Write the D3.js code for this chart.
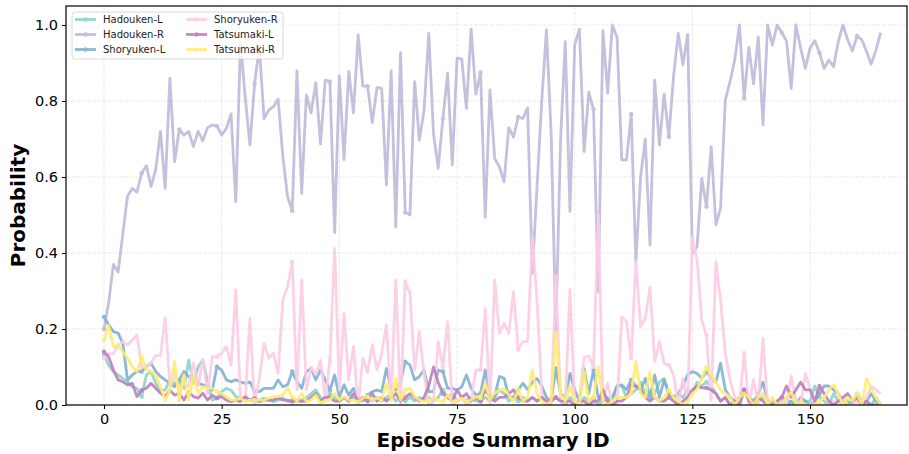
<!DOCTYPE html>
<html><head><meta charset="utf-8">
<script src="https://cdn.jsdelivr.net/npm/d3@7"></script>
<style>body{margin:0;background:#fff}svg{display:block;font-family:"DejaVu Sans",sans-serif}</style>
</head><body><svg id="c" width="909" height="454"></svg>
<script>
const seriesNames = ["Hadouken-L","Hadouken-R","Shoryuken-L","Shoryuken-R","Tatsumaki-L","Tatsumaki-R"];
const seriesColors = ["#8dd3c7","#bebada","#80b1d3","#fccde5","#bc80bd","#ffed6f"];
const xTicks = [0,25,50,75,100,125,150];
const yTicks = [0,0.2,0.4,0.6,0.8,1.0];

const hadoukenL = [.132,.105,.088,.079,.07,.061,.048,.044,.022,.079,
.088,.057,.039,.039,.066,.057,.061,.044,.118,.057,
.1,.118,.061,.013,.018,.035,.044,.039,.022,.018,
.013,.013,.009,.013,.018,.013,.009,.013,.018,.009,
.013,.009,.013,.02,.03,.04,.02,.01,.03,.02,
.01,.02,.01,.02,.01,.01,.02,.01,.02,.01,
.02,.03,.01,.02,.01,.02,.01,.02,.01,.02,
.01,.02,.04,.02,.03,.01,.02,.01,.02,.01,
.01,.02,.01,.02,.04,.03,.01,.02,.01,.02,
.01,.02,.01,.02,0,.01,.02,.01,0,.02,
.01,0,.02,.01,.02,0,.01,.02,.01,.05,
.05,.02,.03,.04,.06,.03,.02,.03,.06,.07,
.03,.02,.03,.02,.04,.03,.06,.05,.06,.05,
.03,.01,.02,0,.01,0,.04,.02,0,.01,
.02,0,.01,0,.01,.02,0,.01,0,.01,
.01,.05,.02,.01,0,.03,.01,0,.01,0,
.03,.01,0,0,.02,0];

const hadoukenR = [.20,.27,.37,.35,.45,.55,.57,.56,.61,.63,
.575,.62,.72,.57,.86,.64,.725,.71,.72,.68,
.72,.695,.73,.737,.734,.71,.728,.766,.535,.956,
.81,.684,.846,.943,.754,.776,.785,.805,.654,.548,
.511,.879,.557,.816,.769,.848,.687,.855,.851,.454,
.866,.646,.877,.769,.974,.839,.839,.743,.835,.833,
.579,.879,.469,.927,.507,.5,.851,.697,.776,.978,
.715,.623,.753,.873,.632,.912,.911,.781,.989,.818,
.875,.494,.829,.649,.627,.588,.73,.705,.758,.754,
.782,.346,.575,.80,.987,.715,.2,.697,.956,.509,
.947,.989,.667,.823,.778,.298,.985,.82,1.0,.968,
.645,.645,.765,.377,.60,.70,.421,.855,.684,.818,
.706,.864,.978,.895,.975,.399,.417,.596,.522,.68,
.474,.518,.803,.851,.908,1.0,.807,.941,.845,.968,
.737,1.0,.947,1.0,.98,.958,.833,1.0,.939,.886,
.939,.959,.927,.886,.908,.89,.956,1.0,.961,.932,
.971,.961,.93,.897,.934,.98];

const shoryukenL = [.232,.211,.193,.189,.162,.066,.079,.088,.088,.101,
.11,.088,.075,.066,.057,.048,.066,.088,.075,.066,
.057,.053,.048,.039,.101,.092,.066,.061,.066,.061,
.057,.061,.035,.035,.044,.044,.044,.066,.048,.053,
.088,.061,.044,.088,.096,.066,.092,.066,.039,.079,
.022,.053,.026,.044,.018,.013,.026,.035,.039,.035,
.096,.044,.039,.061,.114,.105,.066,.075,.092,.035,
.035,.092,.088,.044,.044,.039,.048,.079,.044,.026,
.031,.092,.022,.022,.075,.07,.022,.02,.04,.057,
.04,.06,.07,.05,.02,.01,.096,.03,.02,.083,
.04,.01,.096,.03,.092,.02,.01,.01,.02,.05,
.053,.04,.066,.05,.04,.07,.02,.079,.02,.066,
.03,.02,.03,.05,.08,.088,.083,.07,.088,.07,
.06,.11,.04,.02,.01,.02,.04,.02,.01,.03,
.06,.01,0,.01,.02,0,.01,0,.02,.01,
0,.01,.03,.05,.05,.04,.03,.01,0,.01,
.02,0,.01,.03,.01,0];

const shoryukenR = [.123,.136,.134,.158,.167,.158,.171,.184,.10,.10,
.11,.13,.13,.23,.05,.08,.04,.06,.05,.11,
.05,.12,.03,.127,.127,.136,.154,.105,.303,.022,
.013,.228,0,.07,.162,.123,.136,.083,.276,.311,
.377,.04,.329,.04,.1,.079,.118,.013,.118,.412,
.04,.241,.066,.154,0,.123,.088,.158,.092,.136,
.211,.013,.329,0,.325,.294,.092,.193,.083,0,
.01,.167,.1,.219,0,.01,.02,0,.013,.092,
.092,.254,0,.329,.189,.215,.189,.298,.146,.167,
.167,.443,.276,.03,0,0,.338,.013,0,.304,
0,.013,.125,.129,.1,.5,.013,.057,0,0,
.232,.219,.123,.377,.206,.228,.31,.114,.167,.11,
.105,.079,0,.07,.004,.443,.382,.224,.184,.013,
.377,.276,.136,.066,.022,0,.136,0,.066,0,
.175,0,0,0,.013,0,.075,.013,0,.083,
.044,0,0,0,0,.01,0,.02,0,0,
.01,0,.02,.048,.04,.03];

const tatsumakiL = [.14,.127,.092,.066,.061,.053,.057,.022,.039,.044,
.057,.044,.031,.022,.039,.026,.031,.013,.035,.022,
.018,.031,.013,.026,.018,.022,.013,.009,.013,.009,
.022,.013,.018,.009,.013,.013,.013,.018,.013,.013,
.009,.013,.009,.01,.02,.03,.01,.02,.02,.01,
.01,.02,.01,.03,.01,.02,.01,.03,.01,.02,
.01,.02,.03,.01,.02,.03,.02,.01,.02,.05,
.1,.06,.03,.02,.01,.04,.02,.03,.01,.02,
.01,.04,.02,.01,.02,.02,.03,.04,.02,.01,
.01,.02,.01,.02,.01,.01,.02,.01,.01,.01,
0,.01,.01,0,.01,.01,.04,.01,0,.01,
.01,.02,.05,.05,.04,.02,.01,.02,.01,.01,
.02,.01,0,.01,.02,.04,.05,.045,.045,.04,
.03,.01,.02,0,.01,0,.04,.01,0,.02,
.01,0,0,.01,.02,.05,.02,.04,.06,.04,
.04,.01,.05,.03,.01,0,.01,.02,.03,.01,
.02,0,.01,0,0,0];

const tatsumakiR = [.171,.21,.154,.158,.14,.123,.101,.088,.127,.092,
.088,.079,.048,.013,.039,.114,.013,.079,.013,.075,
.031,.048,.044,.044,.035,.031,.022,.013,.013,.018,
.009,.013,.013,.013,.013,.018,.022,.022,.026,.044,
.022,.009,.031,.009,.013,.026,.004,.013,.013,.031,
.013,.022,.013,.013,.009,.018,.022,.013,.018,.013,
.057,.013,.07,.013,.039,.044,.022,.013,.009,.013,
.018,.013,.009,.026,.009,.013,.018,.009,.013,.022,
.018,.057,.013,.031,.039,.044,.026,.01,.04,.01,
.02,.092,.03,.01,0,.01,.189,.03,.01,.05,
.01,0,.088,.01,.02,.101,.01,0,.01,.02,
.02,.02,.03,.114,.03,.02,.088,.02,.01,.02,
.04,.02,.01,0,.01,.03,.04,.07,.1,.08,
.06,.04,.03,.02,0,.02,.03,.02,0,.02,
.03,0,.02,0,0,.02,.035,0,.01,0,
0,0,.01,.02,.04,.053,.03,0,.02,.01,
.03,0,.07,.04,.02,0];

const allSeries = [hadoukenL, hadoukenR, shoryukenL, shoryukenR, tatsumakiL, tatsumakiR];

const svg = d3.select("#c");
const L = 66, R = 907, T = 6, B = 405;
const x = d3.scaleLinear().domain([-8.07, 170.6]).range([L, R]);
const y = d3.scaleLinear().domain([0, 1.05]).range([B, T]);

// grid
const grid = svg.append("g");
grid.selectAll(".gx").data(xTicks).enter().append("line")
  .attr("x1", d => x(d)).attr("x2", d => x(d)).attr("y1", T).attr("y2", B)
  .attr("stroke", "#b0b0b0").attr("stroke-opacity", 0.35).attr("stroke-dasharray", "3.7,1.6").attr("stroke-width", 0.8);
grid.selectAll(".gy").data(yTicks).enter().append("line")
  .attr("x1", L).attr("x2", R).attr("y1", d => y(d)).attr("y2", d => y(d))
  .attr("stroke", "#b0b0b0").attr("stroke-opacity", 0.35).attr("stroke-dasharray", "3.7,1.6").attr("stroke-width", 0.8);

// lines
const clip = svg.append("clipPath").attr("id", "clip").append("rect")
  .attr("x", L).attr("y", T).attr("width", R - L).attr("height", B - T);
const plot = svg.append("g").attr("clip-path", "url(#clip)");
const line = d3.line().x((d, i) => x(i)).y(d => y(d));
allSeries.forEach((s, k) => {
  const g = plot.append("g").attr("opacity", 0.9);
  g.append("path").datum(s).attr("d", line).attr("fill", "none")
    .attr("stroke", seriesColors[k]).attr("stroke-width", 2.8).attr("stroke-linejoin", "round");
  g.selectAll("circle").data(s.map((v, i) => [i, v]).filter(d => d[0] % 8 === 0)).enter()
    .append("circle").attr("cx", d => x(d[0])).attr("cy", d => y(d[1])).attr("r", 2.2)
    .attr("fill", seriesColors[k]);
});

// axes
const xAxis = svg.append("g").attr("transform", `translate(0,${B})`)
  .call(d3.axisBottom(x).tickValues(xTicks).tickSize(4).tickPadding(5).tickFormat(d3.format("d")));
const yAxis = svg.append("g").attr("transform", `translate(${L},0)`)
  .call(d3.axisLeft(y).tickValues(yTicks).tickSize(4).tickPadding(4).tickFormat(d3.format(".1f")));
[xAxis, yAxis].forEach(a => {
  a.select(".domain").remove();
  a.selectAll("text").attr("font-size", 14.5).attr("fill", "#000").attr("font-family", "DejaVu Sans");
  a.selectAll("line").attr("stroke", "#000").attr("stroke-width", 1);
});
svg.append("rect").attr("x", L).attr("y", T).attr("width", R - L).attr("height", B - T)
  .attr("fill", "none").attr("stroke", "#000").attr("stroke-width", 1.2);

svg.append("text").attr("x", 493).attr("y", 447).attr("text-anchor", "middle")
  .attr("font-size", 20).attr("font-weight", "bold").text("Episode Summary ID");
svg.append("text").attr("transform", `translate(25,${(T + B) / 2}) rotate(-90)`).attr("text-anchor", "middle")
  .attr("font-size", 20).attr("font-weight", "bold").text("Probability");

// legend
const lg = svg.append("g");
lg.append("rect").attr("x", 72).attr("y", 12).attr("width", 211).attr("height", 47).attr("rx", 3)
  .attr("fill", "#fff").attr("fill-opacity", 0.8).attr("stroke", "#d0d0d0").attr("stroke-width", 0.8);
seriesNames.forEach((n, k) => {
  const col = Math.floor(k / 3), row = k % 3;
  const x0 = col ? 186 : 75, yy = 19.5 + row * 15;
  const e = lg.append("g").attr("opacity", 0.9);
  e.append("line").attr("x1", x0).attr("x2", x0 + 21).attr("y1", yy).attr("y2", yy)
    .attr("stroke", seriesColors[k]).attr("stroke-width", 2.8);
  e.append("circle").attr("cx", x0 + 10.5).attr("cy", yy).attr("r", 2.2).attr("fill", seriesColors[k]);
  lg.append("text").attr("x", x0 + 28).attr("y", yy + 3.6).attr("font-size", 10).attr("fill", "#222").text(n);
});
</script></body></html>
